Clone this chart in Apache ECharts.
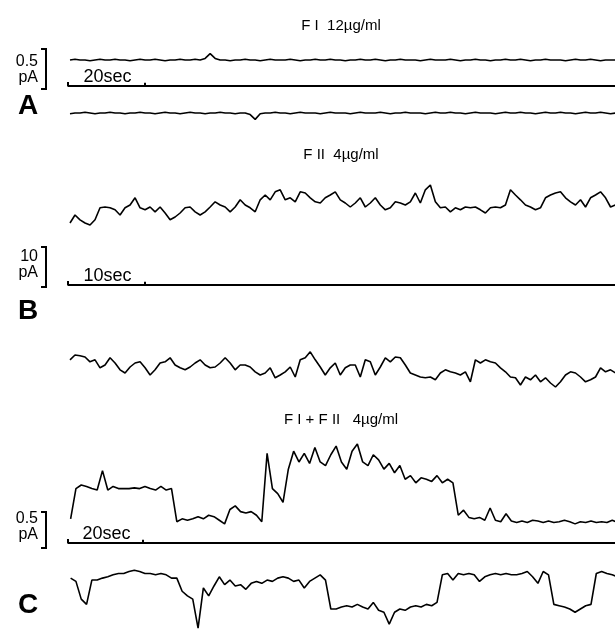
<!DOCTYPE html>
<html>
<head>
<meta charset="utf-8">
<script src="https://cdn.jsdelivr.net/npm/echarts@6/dist/echarts.min.js"></script>
<style>
  html, body { margin: 0; background: #fff; }
  #chart { width: 615px; height: 633px; }
</style>
</head>
<body>
<div id="chart"></div>
<script>
// current readings (pA) taken at equal time steps along each sweep
const traceA1 = [0,0.01,0,0,-0.01,0,0.01,0,0,0.01, 0,0,-0.01,0,0.01,0,0,0.01,0,-0.01,
  0,0,0.01,0,0,0.01,0,0.02,0.08,0.02, 0,0,-0.01,0,0,0.01,0,0,-0.01,0,
  0.01,0,0,0,0.01,0,-0.01,0,0,0.01, 0,0,0.01,0,0,-0.01,0,0,0.01,0,
  0,0.01,0,-0.01,0,0,0.01,0,0,0, -0.01,0,0.01,0,0,0,0.01,0,-0.01,0,
  0,0.01,0,0,-0.01,0,0,0.01,0,0, 0.01,0,-0.01,0,0,0.01,0,0,0,-0.01,
  0,0.01,0,0,0.01,0,-0.01,0,0,0];
const traceA2 = [-0.01,0,0,0.01,0,-0.01,0,0,0.01,0, 0,-0.01,0,0,0.01,0,0,-0.01,0,0.01,
  0,0,-0.01,0,0.01,0,0,-0.01,0,0, 0.01,0,0,-0.01,0,0,-0.02,-0.08,-0.01,0,
  0,0.01,0,0,-0.01,0,0.01,0,0,0, -0.01,0,0.01,0,0,0,-0.01,0,0.01,0,
  0,0,0.01,0,-0.01,0,0,0.01,0,0, 0,-0.01,0,0.01,0,0,0.01,0,0,-0.01,
  0,0.01,0,0,0,-0.01,0,0.01,0,0, 0.01,0,0,-0.01,0,0.01,0,0,0.01,0,
  0,-0.01,0,0.01,0,0,0.01,0,-0.01,0];
const traceB1 = [1,3,1.8,1,0.5,1.8,4.8,5,4.8,4.3, 3,4.8,5.5,7.3,4.8,4.3,5,3.8,5,3.5,
  1.8,2.5,3.5,4.8,5,3.8,3,3.8,5,6.3, 5.5,5,3.8,5,6.8,5.5,4.8,3.8,6.8,8,
  6.8,8.8,9.3,6.8,7.3,6.3,8.8,8.5,7.3,6.3, 6,7.3,8,8.8,6.8,6,5,6,7.3,5,
  6,7.3,5.5,4.3,4.8,6.3,6,5.5,6.3,8.5, 6,9.3,10.5,6.3,4.8,5,3.8,4.8,4.3,5,
  4.8,5,4.3,3.5,4.8,5,4.8,5.5,9.3,8, 6.8,5.5,5,4.3,4.8,7.3,8,8.5,8.8,7.3,
  6.3,5.5,6.8,5,7.3,8,8.8,7.3,5,5.5];
const traceB2 = [7.3,8.5,8.3,8,6.8,7.3,5.3,6,7.8,6.5, 4.8,4,5.5,6.5,6.8,5.3,3.5,4.8,6.5,6.8,
  7.8,6,5.3,4.8,5.5,6.5,7.3,6,5.3,5.5, 6.5,7.8,6.5,4.8,6,6,5.5,4.3,3.5,4,
  5.3,2.8,3.5,4.3,5.5,3,7.3,7.8,9.3,7.3, 5.5,3.5,5.3,6.5,3.5,5.3,6,6,3,7.3,
  6.8,3.5,5.5,7.8,6.8,8,7.8,6,4,3.5, 3,2.8,3,2.3,4,4.8,4.3,4,3.5,4.3,
  1.8,7.3,6.5,7.3,6.8,6.5,5.3,4.3,3,2.8, 1,3,2.3,3.5,1.8,2.8,1.5,0.5,1.8,3.5,
  4.3,4,3,1.8,2.3,3,5.3,4.3,4.8,4];
const traceC1 = [0.03,0.45,0.50,0.48,0.45,0.43,0.70,0.43,0.48,0.45,
  0.45,0.45,0.46,0.45,0.48,0.45,0.43,0.48,0.43,0.45,
  -0.01,0.03,0.01,0.03,0.06,0.03,0.08,0.06,0.01,-0.04,
  0.16,0.21,0.13,0.11,0.13,0.08,-0.01,0.94,0.45,0.38,
  0.26,0.72,0.97,0.82,0.94,0.80,1.02,0.82,0.77,0.92,
  1.04,0.82,0.72,0.97,1.07,0.82,0.77,0.92,0.85,0.72,
  0.80,0.67,0.77,0.58,0.63,0.53,0.60,0.58,0.55,0.63,
  0.53,0.58,0.53,0.08,0.15,0.05,0.03,0.05,0.01,0.18,
  0.01,-0.01,0.10,0.00,-0.02,0.00,-0.02,0.01,0.00,-0.02,
  0.00,-0.02,-0.01,0.01,-0.01,-0.04,-0.01,-0.02,0.00,-0.02,
  -0.01,-0.02,0.01,-0.02];
const traceC2 = [0.44,0.39,0.12,0.04,0.41,0.41,0.44,0.46,0.49,0.51,
  0.51,0.54,0.56,0.54,0.51,0.51,0.49,0.51,0.49,0.44,
  0.44,0.24,0.17,0.12,-0.32,0.29,0.17,0.32,0.46,0.34,
  0.41,0.32,0.34,0.27,0.36,0.39,0.36,0.41,0.39,0.44,
  0.46,0.44,0.39,0.41,0.29,0.39,0.44,0.49,0.41,-0.03,
  -0.03,0.00,0.02,0.00,0.04,0.00,-0.03,0.07,-0.05,-0.08,
  -0.26,-0.08,-0.03,-0.05,0.00,0.02,0.00,0.04,0.02,0.07,
  0.49,0.51,0.41,0.51,0.49,0.51,0.49,0.39,0.46,0.49,
  0.51,0.49,0.51,0.49,0.49,0.51,0.54,0.46,0.36,0.54,
  0.49,0.04,0.02,0.00,-0.03,-0.08,-0.03,0.02,0.04,0.51,
  0.54,0.51,0.49,0.46];

// sampling: first reading time and step (s)
const sampleT0 = [0.52, 0.26, 0.70];
const sampleDt = [1.3, 0.65, 1.416];

// calibration bars
const scaleSec = [20, 10, 20];
const scalePA = [0.5, 10, 0.5];
const titles = ['F I  12µg/ml', 'F II  4µg/ml', 'F I + F II   4µg/ml'];
const letters = ['A', 'B', 'C'];

// layout, pixels
const LEFT = 68, WIDTH = 547;
const panels = [
  { traces: [traceA1, traceA2], zeroY: [60, 113], baseY: 86, pxPerPA: 80, pxPerSec: 3.85,
    titleY: 26, barBottom: 89, numY: 62, unitY: 78, letterY: 106 },
  { traces: [traceB1, traceB2], zeroY: [227, 389], baseY: 285, pxPerPA: 4, pxPerSec: 7.7,
    titleY: 155, barBottom: 287, numY: 257, unitY: 273, letterY: 311 },
  { traces: [traceC1, traceC2], zeroY: [521, 611], baseY: 543, pxPerPA: 72, pxPerSec: 3.75,
    titleY: 420, barBottom: 548, numY: 519, unitY: 535, letterY: 605 }
];

const grids = [], xAxes = [], yAxes = [], series = [];
const traceGrid = [];
panels.forEach((p, k) => {
  const tmax = WIDTH / p.pxPerSec;
  p.traces.forEach((tr, j) => {
    const lo = Math.min(...tr) - 0.15 * scalePA[k];
    const hi = Math.max(...tr) + 0.15 * scalePA[k];
    const g = grids.length;
    if (j === 0) traceGrid.push(g);
    grids.push({ left: LEFT, width: WIDTH, top: p.zeroY[j] - hi * p.pxPerPA, height: (hi - lo) * p.pxPerPA });
    xAxes.push({ type: 'value', gridIndex: g, min: 0, max: tmax, show: false });
    yAxes.push({ type: 'value', gridIndex: g, min: lo, max: hi, show: false });
    series.push({
      type: 'line', xAxisIndex: g, yAxisIndex: g, showSymbol: false, silent: true,
      lineStyle: { color: '#000', width: 1.6 },
      data: tr.map((v, i) => [sampleT0[k] + i * sampleDt[k], v])
    });
  });
  // time calibration baseline
  const g = grids.length;
  grids.push({ left: LEFT, width: WIDTH, top: p.baseY - 4, height: 4 });
  xAxes.push({ type: 'value', gridIndex: g, min: 0, max: tmax, show: false });
  yAxes.push({ type: 'value', gridIndex: g, min: 0, max: 1, show: false });
  series.push({
    type: 'line', xAxisIndex: g, yAxisIndex: g, showSymbol: false, silent: true, clip: false,
    lineStyle: { color: '#000', width: 2 },
    data: [[0, 1], [0, 0], [scaleSec[k], 0], [scaleSec[k], 0.8], [scaleSec[k], 0], [tmax, 0]]
  });
});

const chart = echarts.init(document.getElementById('chart'));
chart.setOption({
  animation: false,
  backgroundColor: '#fff',
  grid: grids, xAxis: xAxes, yAxis: yAxes, series: series
});

const font = '"Liberation Sans", Arial, sans-serif';
const graphic = [];
panels.forEach((p, k) => {
  const g = traceGrid[k];
  const y0 = chart.convertToPixel({ gridIndex: g }, [0, 0])[1];
  const y1 = chart.convertToPixel({ gridIndex: g }, [0, scalePA[k]])[1];
  const len = Math.abs(y0 - y1);
  const bx = 46, top = p.barBottom - len;
  graphic.push({
    type: 'polyline', silent: true,
    shape: { points: [[bx - 5, top], [bx, top], [bx, p.barBottom], [bx - 5, p.barBottom]] },
    style: { stroke: '#000', lineWidth: 2, fill: null }
  });
  graphic.push({ type: 'text', x: 38, y: p.numY, silent: true,
    style: { text: String(scalePA[k]), font: '16px ' + font, fill: '#000', align: 'right', verticalAlign: 'middle' } });
  graphic.push({ type: 'text', x: 38, y: p.unitY, silent: true,
    style: { text: 'pA', font: '16px ' + font, fill: '#000', align: 'right', verticalAlign: 'middle' } });
  graphic.push({ type: 'text', x: 28, y: p.letterY, silent: true,
    style: { text: letters[k], font: 'bold 28px ' + font, fill: '#000', align: 'center', verticalAlign: 'middle' } });
  graphic.push({ type: 'text', x: 341, y: p.titleY, silent: true,
    style: { text: titles[k], font: '15px ' + font, fill: '#000', align: 'center', verticalAlign: 'middle' } });
  const sx = chart.convertToPixel({ gridIndex: g + 2 }, [scaleSec[k] / 2, 0])[0];
  graphic.push({ type: 'text', x: sx + 1, y: p.baseY, silent: true,
    style: { text: scaleSec[k] + 'sec', font: '18px ' + font, fill: '#000', align: 'center', verticalAlign: 'bottom' } });
});
chart.setOption({ graphic: graphic });
</script>
</body>
</html>
